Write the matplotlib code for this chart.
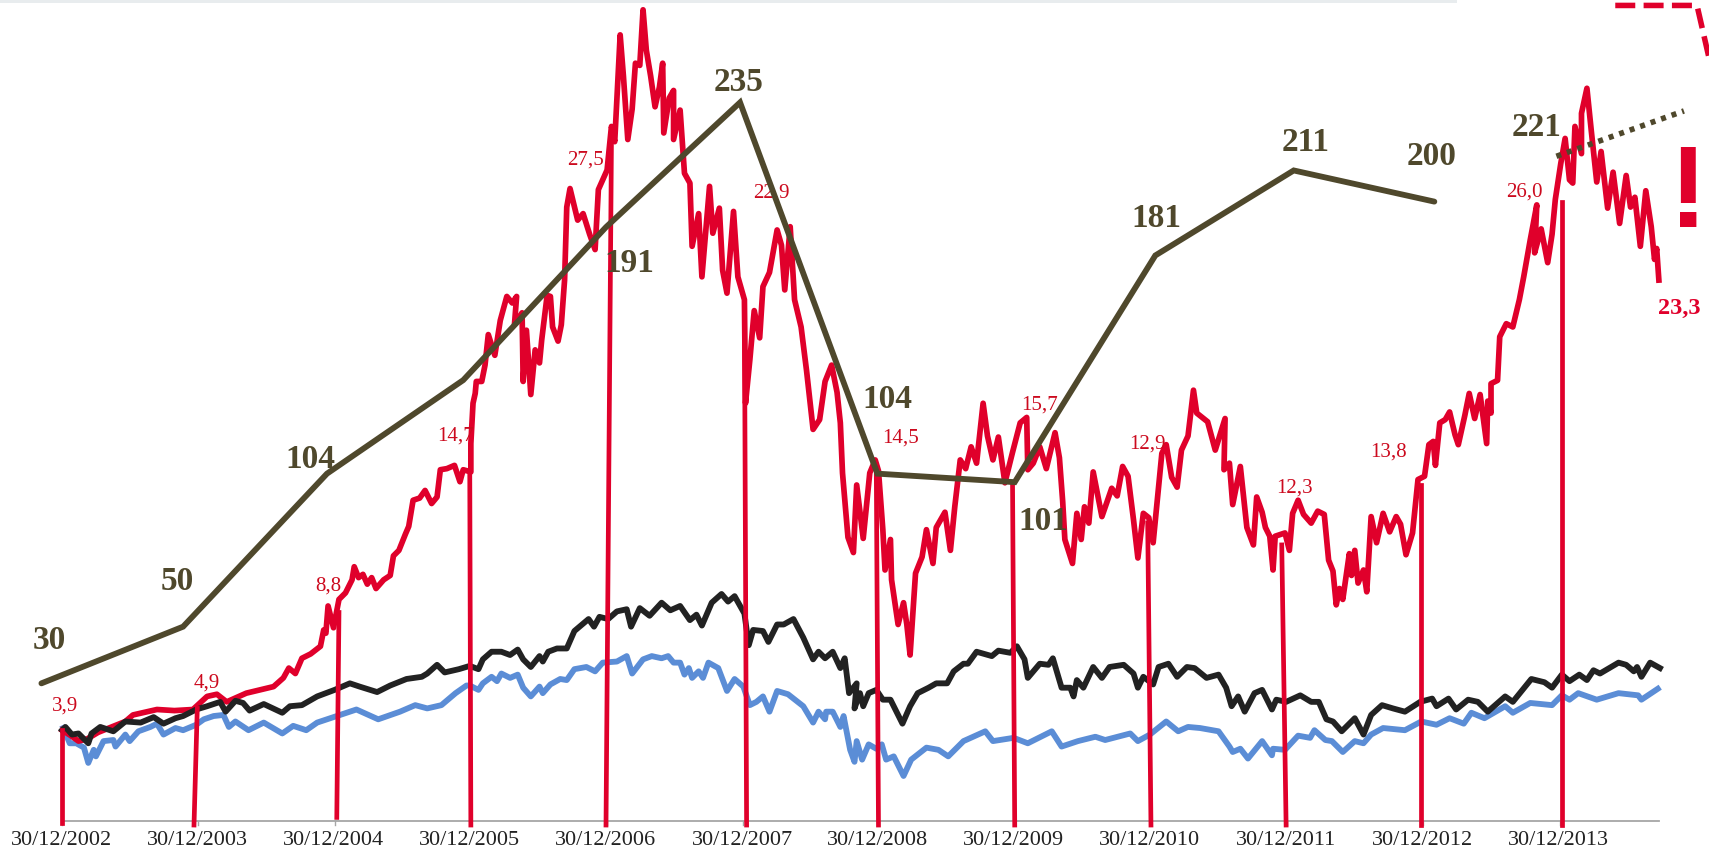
import matplotlib
matplotlib.use('Agg')
import matplotlib.pyplot as plt

# eje x: indice (125 unidades por año), eje y: altura sobre la base del grafico
fechas = ['30/12/2002', '30/12/2003', '30/12/2004', '30/12/2005', '30/12/2006', '30/12/2007',
          '30/12/2008', '30/12/2009', '30/12/2010', '30/12/2011', '30/12/2012', '30/12/2013']
pos_fechas = [57, 182, 307, 432, 557, 682, 806, 931, 1056, 1181, 1306, 1431]

rojo = [(57,83),(65,78),(72,73),(80,75),(90,81),(100,85),(115,91),(122,97),(144,102),(160,101),(177,102),(190,114),(199,116),(208,109),
(226,117),(251,123),(260,131),(265,140),(271,135),(277,149),(285,153),(294,160),(297,175),(299,172),(301,197),(306,177),(311,203),(317,209),
(323,221),(325,233),(329,223),(333,226),(337,217),(341,223),(345,213),(352,221),(358,225),(361,243),(366,248),(372,263),(375,270),(379,294),
(385,296),(390,303),(396,291),(401,297),(404,322),(410,323),(417,326),(422,311),(425,322),(432,320),(432,346),(434,383),(436,392),(437,403),
(442,403),(445,418),(448,446),(454,427),(459,459),(465,481),(470,475),(474,481),(472,455),(479,466),(480,403),(483,450),(487,391),(491,432),
(495,420),(497,441),(502,482),(505,481),(507,453),(512,440),(515,455),(518,496),(520,563),(523,580),(530,551),(535,557),(541,538),(546,524),
(549,579),(557,597),(561,637),(564,623),(569,721),(572,683),(576,625),(580,653),(583,695),(587,693),(590,744),(593,707),(597,683),(601,655),
(605,673),(608,695),(609,631),(614,663),(618,670),(618,625),(624,652),(628,594),(633,585),(635,527),(641,557),(644,499),(651,582),(654,539),
(660,562),(663,505),(667,484),(673,559),(677,499),(683,478),(684,383),(688,423),(692,468),(697,443),(700,490),(706,503),(713,542),(717,528),
(720,487),(725,545),(729,478),(735,453),(740,413),(746,359),(752,368),(757,403),(763,418),(768,393),(771,365),(773,319),(778,260),(783,246),
(786,308),(792,259),(798,319),(803,331),(806,321),(810,267),(812,230),(817,258),(818,221),(824,180),(829,200),(832,180),(835,152),(840,227),
(846,242),(850,267),(856,236),(859,269),(867,283),(872,248),(876,288),(881,331),(886,323),(891,343),(896,328),(902,383),(906,353),(911,331),
(916,352),(922,310),(929,338),(936,365),(942,370),(943,322),(948,328),(954,343),(960,323),(968,356),(972,333),(975,293),(977,258),(984,236),
(988,282),(992,258),(995,288),(999,273),(1003,320),(1011,279),(1020,305),(1025,298),(1030,325),(1035,316),(1040,276),(1044,241),(1049,282),
(1054,278),(1058,255),(1066,337),(1070,345),(1075,315),(1080,306),(1084,340),(1090,353),(1095,395),(1098,374),(1108,366),(1115,340),(1124,369),
(1123,322),(1128,328),(1131,290),(1138,325),(1144,269),(1150,253),(1153,297),(1158,283),(1161,269),(1165,261),(1168,230),(1170,261),(1179,264),
(1183,248),(1186,282),(1191,294),(1196,281),(1203,273),(1209,284),(1215,281),(1219,239),(1223,229),(1226,198),(1229,213),(1232,203),(1238,245),
(1240,225),(1243,248),(1246,218),(1251,230),(1254,210),(1258,279),(1263,255),(1269,282),(1275,265),(1281,279),(1285,272),(1290,244),(1296,264),
(1301,313),(1307,316),(1311,345),(1315,348),(1317,326),(1321,365),(1326,368),(1330,375),(1335,354),(1338,345),(1344,372),(1348,392),(1353,369),
(1358,391),(1364,346),(1365,385),(1368,374),(1368,401),(1374,404),(1376,444),(1382,456),(1388,453),(1394,478),(1398,499),(1404,533),(1410,565),
(1408,521),(1414,543),(1420,512),(1424,538),(1427,570),(1432,603),(1436,626),(1440,588),(1443,585),(1445,637),(1451,612),(1451,649),(1456,672),
(1460,633),(1465,586),(1469,614),(1475,562),(1480,595),(1486,548),(1492,592),(1496,563),(1500,572),(1505,527),(1510,578),(1515,545),(1518,515),
(1520,525),(1522,496)]
rojo_x = [p[0] for p in rojo]
rojo_h = [p[1] for p in rojo]

negro = [(57,83),(60,86),(66,79),(72,80),(81,71),(84,80),(92,86),(104,82),(115,91),(129,90),(141,95),(150,89),(161,94),(168,96),(180,102),(190,105),
(202,109),(207,100),(216,110),(223,108),(229,101),(242,107),(259,99),(266,105),(277,106),(291,114),(307,120),(321,126),(330,123),(346,118),(358,124),
(373,130),(387,132),(392,135),(401,143),(408,136),(421,139),(431,142),(439,139),(443,148),(451,155),(460,155),(468,152),(475,157),(480,148),(487,141),
(495,151),(498,146),(503,155),(511,158),(520,158),(527,174),(540,185),(545,178),(550,187),(558,185),(566,192),(575,194),(579,178),(587,195),(596,188),
(607,200),(615,193),(624,197),(633,184),(639,189),(644,179),(653,200),(662,208),(668,201),(674,206),(683,190),(687,161),(691,175),(700,174),(705,164),
(713,180),(719,180),(728,185),(737,168),(746,148),(751,155),(757,149),(764,155),(771,140),(775,149),(779,117),(786,126),(784,103),(789,117),(792,105),
(797,117),(804,120),(810,111),(817,111),(821,103),(828,89),(835,105),(842,117),(852,122),(859,126),(869,126),(875,137),(884,144),(888,144),(896,155),
(910,151),(916,156),(927,154),(933,160),(940,148),(943,131),(954,144),(962,143),(966,149),(974,122),(982,122),(985,114),(988,129),(994,122),(1003,141),
(1011,131),(1018,141),(1031,143),(1040,135),(1044,122),(1049,132),(1058,125),(1063,141),(1072,144),(1080,132),(1089,141),(1096,140),(1107,131),(1118,134),
(1125,122),(1130,105),(1136,114),(1142,100),(1151,117),(1158,120),(1167,102),(1171,111),(1180,109),(1193,115),(1203,109),(1210,109),(1217,93),(1223,91),
(1231,82),(1243,94),(1251,79),(1258,97),(1268,106),(1278,103),(1289,100),(1303,109),(1314,112),(1318,105),(1329,112),(1336,102),(1347,111),(1356,109),
(1365,100),(1381,114),(1388,109),(1405,130),(1417,127),(1424,122),(1433,134),(1440,128),(1449,134),(1456,129),(1462,138),(1468,135),(1485,145),(1492,143),
(1499,137),(1502,141),(1506,132),(1514,145),(1523,140)]
negro_x = [p[0] for p in negro]
negro_h = [p[1] for p in negro]

azul = [(58,85),(64,71),(70,71),(77,67),(81,53),(86,65),(88,59),(95,73),(104,74),(106,68),(115,79),(119,73),(127,82),(138,86),(144,89),(150,79),(161,85),
(168,83),(180,88),(187,93),(196,96),(205,97),(210,86),(216,91),(228,83),(242,90),(259,80),(269,87),(281,83),(291,90),(309,96),(327,102),(347,93),(367,100),
(381,106),(392,103),(405,106),(418,117),(428,124),(431,124),(439,120),(443,126),(451,132),(456,128),(460,135),(468,131),(475,134),(480,122),(487,114),
(495,123),(498,117),(505,125),(514,130),(520,129),(527,139),(538,141),(546,137),(553,145),(566,146),(575,151),(580,135),(590,148),(598,151),(607,149),
(613,151),(618,145),(624,145),(628,134),(632,140),(635,131),(641,137),(645,131),(650,145),(659,140),(667,119),(674,130),(682,123),(688,106),(694,109),
(700,114),(706,100),(713,119),(723,116),(737,105),(746,90),(751,100),(757,93),(758,100),(764,100),(771,86),(774,96),(780,65),(784,54),(786,73),(791,56),
(797,70),(804,66),(809,70),(813,56),(820,59),(829,41),(836,56),(850,67),(861,65),(870,59),(884,73),(904,82),(911,73),(930,76),(943,71),(965,82),(974,68),
(989,73),(1005,77),(1014,74),(1037,80),(1044,73),(1055,79),(1070,91),(1081,82),(1090,86),(1101,85),(1118,82),(1128,68),(1131,63),(1138,66),(1145,57),
(1158,73),(1167,60),(1168,66),(1179,65),(1191,78),(1202,76),(1206,83),(1216,74),(1222,73),(1232,63),(1243,73),(1251,71),(1258,79),(1269,85),(1289,83),
(1304,91),(1318,88),(1330,94),(1343,89),(1350,99),(1362,94),(1381,105),(1388,99),(1404,108),(1424,106),(1433,115),(1440,111),(1448,117),(1465,111),
(1485,117),(1503,115),(1506,111),(1521,121)]
azul_x = [p[0] for p in azul]
azul_h = [p[1] for p in azul]

# P/E: valores de la linea marron, con sus etiquetas
pe_x = [38, 168, 300, 425, 556, 679, 805, 931, 1060, 1187, 1316]
pe_val = [30, 50, 104, 137, 191, 235, 104, 101, 181, 211, 200]
pe_punt_x = [1428, 1545]
pe_punt_val = [216, 232]
pe_etiq = ['30', '50', '104', '191', '235', '104', '101', '181', '211', '200', '221']
pe_etiq_x = [45, 163, 285, 577, 678, 814, 957, 1061, 1198, 1313, 1410]
pe_etiq_val = [45, 66, 109, 178, 242, 130, 87, 194, 221, 216, 226]

# lineas verticales rojas en cada cierre de año
vert_x_base = [57, 178, 309, 432, 556, 685, 806, 931, 1056, 1180, 1304, 1433]
vert_x_tope = [57, 181, 311, 431, 561, 683, 804, 929, 1053, 1176, 1304, 1433]
vert_h_base = [-2, -4, 3, -4, -4, -4, -4, -4, -4, -4, -4, -4]
vert_h_tope = [83, 103, 191, 321, 623, 473, 323, 308, 273, 253, 308, 568]
rojo_etiq = ['3,9', '4,9', '8,8', '14,7', '27,5', '22,9', '14,5', '15,7', '12,9', '12,3', '13,8', '26,0']
rojo_etiq_x = [60, 190, 301, 418, 537, 708, 826, 954, 1053, 1188, 1274, 1399]
rojo_etiq_h = [105, 126, 215, 353, 606, 576, 351, 381, 346, 305, 338, 577]

# recuadro rojo de trazos, arriba a la derecha
trazo_x = [1482, 1557, 1568]
trazo_h = [748, 748, 700]

ROJO = '#e0002b'
MARRON = '#4f482c'

fig = plt.figure(figsize=(17.09, 8.49), dpi=100)
ax = fig.add_axes([0, 0, 1, 1])
ax.set_xlim(0, 1568)
ax.set_ylim(-26, 753)
ax.axis('off')

# banda gris superior y eje x
ax.fill_between([0, 1337], 750, 753, color='#e8ecee', lw=0)
ax.plot([57, 1522], [0, 0], color='#a6a6a6', lw=1.3)
for p in pos_fechas:
    ax.plot([p, p], [0, -4], color='#a6a6a6', lw=1)
for p, f in zip(pos_fechas, fechas):
    ax.text(p - 1, -18, f, ha='center', va='center', fontsize=16, family='Liberation Serif', color='#222222')

ax.plot(azul_x, azul_h, color='#5b8dd6', lw=4.2, solid_joinstyle='round')
ax.plot(rojo_x, rojo_h, color=ROJO, lw=4.1, solid_joinstyle='round')
ax.plot(negro_x, negro_h, color='#222222', lw=4.2, solid_joinstyle='round')
for i in range(len(vert_x_base)):
    ax.plot([vert_x_base[i], vert_x_tope[i]], [vert_h_base[i], vert_h_tope[i]], color=ROJO, lw=3.4)
for x, h, t in zip(rojo_etiq_x, rojo_etiq_h, rojo_etiq):
    ax.text(x, h, t, ha='center', va='center', fontsize=15, family='Liberation Serif', color='#cc0a1e')
ax.text(1541, 470, '23,3', ha='center', va='center', fontsize=17.5, family='Liberation Serif',
        weight='bold', color=ROJO)
ax.plot(trazo_x, trazo_h, color=ROJO, lw=4, ls=(0, (3.6, 1.5)))
ax.text(1567, 573, '!', ha='right', va='center', fontsize=84, family='Liberation Sans',
        weight='bold', color=ROJO)

# eje secundario para la linea marron
ax2 = ax.twinx()
ax2.set_position([0, 0, 1, 1])
ax2.set_ylim(-28.46, 271.15)
ax2.axis('off')
ax2.plot(pe_x, pe_val, color=MARRON, lw=4.2, solid_capstyle='round', solid_joinstyle='miter')
ax2.plot(pe_punt_x, pe_punt_val, color=MARRON, lw=4, ls=(0, (0.9, 1.1)))
for x, v, t in zip(pe_etiq_x, pe_etiq_val, pe_etiq):
    ax2.text(x, v, t, ha='center', va='center', fontsize=24, family='Liberation Serif',
             weight='bold', color=MARRON)

fig.savefig('out.png', dpi=100)
